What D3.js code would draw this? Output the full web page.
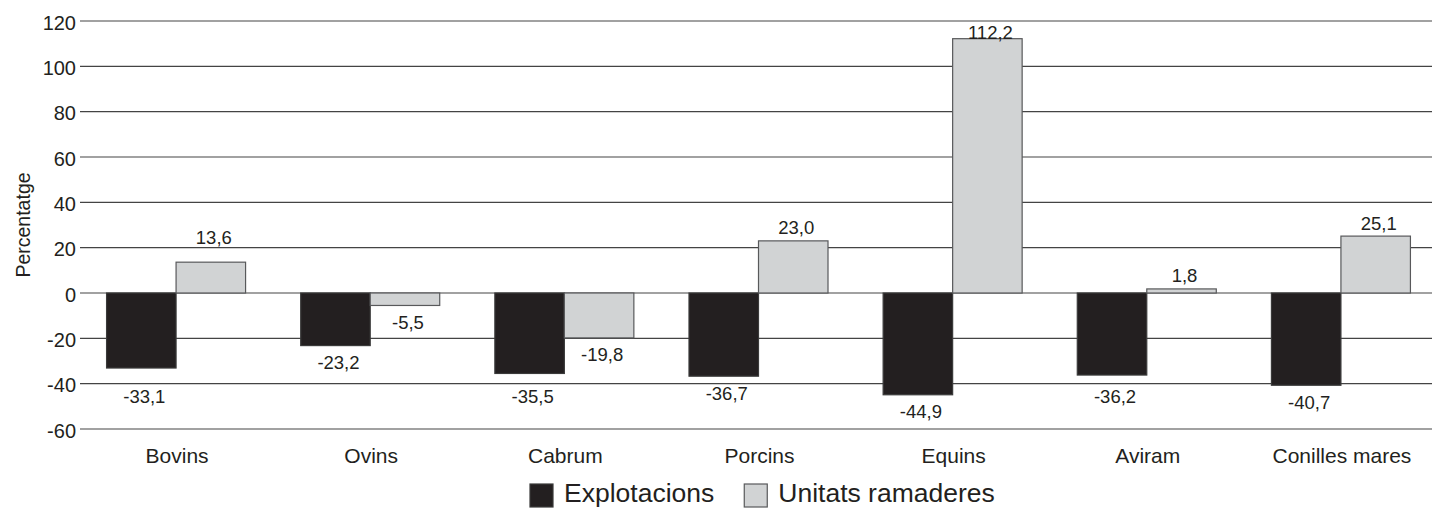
<!DOCTYPE html>
<html>
<head>
<meta charset="utf-8">
<script src="https://cdn.jsdelivr.net/npm/d3@7"></script>
<style>
  body { margin: 0; background: #fff; }
  svg text { font-family: "Liberation Sans", Arial, Helvetica, sans-serif; fill: #231f20; }
</style>
</head>
<body>
<svg id="chart"></svg>
<script>
var categories = ["Bovins", "Ovins", "Cabrum", "Porcins", "Equins", "Aviram", "Conilles mares"];
var series = ["Explotacions", "Unitats ramaderes"];
var explotacions = [-33.1, -23.2, -35.5, -36.7, -44.9, -36.2, -40.7];
var unitats = [13.6, -5.5, -19.8, 23.0, 112.2, 1.8, 25.1];
var yTicks = [-60, -40, -20, 0, 20, 40, 60, 80, 100, 120];

var width = 1432, height = 508;
var colors = { "Explotacions": "#231f20", "Unitats ramaderes": "#d1d3d4" };
var strokes = { "Explotacions": "#3a3a3a", "Unitats ramaderes": "#58595b" };

var locale = d3.formatLocale({ decimal: ",", thousands: ".", grouping: [3], currency: ["", "€"], minus: "-" });
var fmtVal = locale.format(".1f");
var fmtTick = locale.format("d");

var svg = d3.select("svg#chart")
  .attr("width", width)
  .attr("height", height);

var x = d3.scaleBand()
  .domain(categories)
  .range([79, 1438])
  .paddingInner(0.284)
  .paddingOuter(0.142);

var xs = d3.scaleBand()
  .domain(series)
  .range([0, x.bandwidth()]);

var y = d3.scaleLinear()
  .domain([-60, 120])
  .range([429, 21]);

// gridlines
svg.append("g")
  .selectAll("line")
  .data(yTicks)
  .enter()
  .append("line")
  .attr("x1", 80)
  .attr("x2", width)
  .attr("y1", function(d) { return y(d); })
  .attr("y2", function(d) { return y(d); })
  .attr("stroke", "#444")
  .attr("stroke-width", 1.2);

// y tick labels
svg.append("g")
  .selectAll("text")
  .data(yTicks)
  .enter()
  .append("text")
  .attr("x", 76)
  .attr("y", function(d) { return y(d) + 8.7; })
  .attr("text-anchor", "end")
  .style("font-size", "20px")
  .text(function(d) { return fmtTick(d); });

// y axis title
svg.append("text")
  .attr("transform", "translate(30 225) rotate(-90)")
  .attr("text-anchor", "middle")
  .style("font-size", "19.5px")
  .text("Percentatge");

var rows = [];
categories.forEach(function(c, i) {
  rows.push({ cat: c, s: series[0], v: explotacions[i] });
  rows.push({ cat: c, s: series[1], v: unitats[i] });
});

// bars
svg.append("g")
  .selectAll("rect")
  .data(rows)
  .enter()
  .append("rect")
  .attr("x", function(d) { return x(d.cat) + xs(d.s); })
  .attr("width", xs.bandwidth())
  .attr("y", function(d) { return y(Math.max(0, d.v)); })
  .attr("height", function(d) { return Math.abs(y(d.v) - y(0)); })
  .attr("fill", function(d) { return colors[d.s]; })
  .attr("stroke", function(d) { return strokes[d.s]; })
  .attr("stroke-width", 1.2);

// value labels: keep them off the gridlines
function labelCenter(d) {
  var end = y(d.v);
  var c = d.v >= 0 ? end - 13 : end + 17;
  yTicks.forEach(function(t) {
    var g = y(t);
    if (t !== 0 && Math.abs(c - g) < 9) {
      if (d.v >= 0) {
        c = (g - 10 < y(120)) ? g + 11 : g - 10;
      } else {
        c = g + 13;
      }
    }
  });
  return c;
}

svg.append("g")
  .selectAll("text")
  .data(rows)
  .enter()
  .append("text")
  .attr("x", function(d) { return x(d.cat) + xs(d.s) + xs.bandwidth() / 2 + 3; })
  .attr("y", function(d) { return labelCenter(d) + 6.5; })
  .attr("text-anchor", "middle")
  .style("font-size", "18.5px")
  .text(function(d) { return fmtVal(d.v); });

// category labels
svg.append("g")
  .selectAll("text")
  .data(categories)
  .enter()
  .append("text")
  .attr("x", function(d) { return x(d) + x.bandwidth() / 2 + 1; })
  .attr("y", 463)
  .attr("text-anchor", "middle")
  .style("font-size", "21px")
  .text(function(d) { return d; });

// legend
var legend = svg.append("g");
var lx = 530;
series.forEach(function(s) {
  legend.append("rect")
    .attr("x", lx)
    .attr("y", 484)
    .attr("width", 23)
    .attr("height", 23)
    .attr("fill", colors[s])
    .attr("stroke", strokes[s])
    .attr("stroke-width", 1.2);
  var t = legend.append("text")
    .attr("x", lx + 34)
    .attr("y", 502)
    .style("font-size", "26.5px")
    .text(s);
  lx = lx + 34 + t.node().getComputedTextLength() + 30;
});
</script>
</body>
</html>
